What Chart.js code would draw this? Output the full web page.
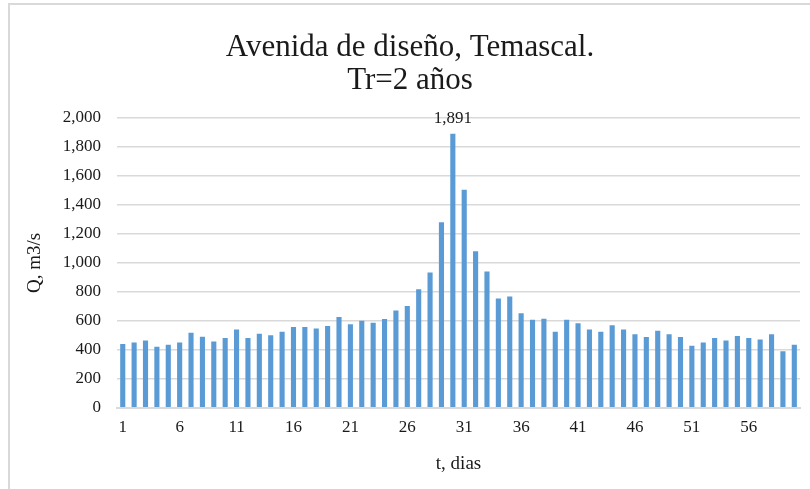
<!DOCTYPE html>
<html>
<head>
<meta charset="utf-8">
<script src="https://cdn.jsdelivr.net/npm/chart.js@4.4.0/dist/chart.umd.min.js"></script>
<style>
  body { margin: 0; background: #fff; }
  #frame { position: absolute; left: 8px; top: 3px; width: 810px; height: 490px; border-left: 2px solid #d9d9d9; border-top: 2px solid #d9d9d9; }
  #wrap { position: absolute; left: 0; top: 0; width: 810px; height: 489px; }
</style>
</head>
<body>
<div id="frame"></div>
<div id="wrap"><canvas id="chart" width="810" height="489"></canvas></div>
<script>
// Avenida de diseño, Temascal - Tr = 2 años
const dias = [];
for (let d = 1; d <= 60; d++) dias.push(String(d));

const caudal = [
  441, 451, 465, 421, 435, 451, 518, 490, 458, 481,
  541, 481, 511, 501, 524, 557, 557, 547, 564, 627,
  577, 600, 587, 612, 672, 702, 818, 933, 1280, 1891,
  1505, 1080, 940, 755, 768, 653, 607, 614, 524, 607,
  584, 541, 524, 570, 541, 508, 488, 531, 508, 488,
  428, 451, 481, 465, 495, 481, 472, 508, 391, 435
];

const yTicks = [0, 200, 400, 600, 800, 1000, 1200, 1400, 1600, 1800, 2000];

const serif = "'Liberation Serif', 'Times New Roman', serif";

// label only the peak value
const peakLabel = {
  id: 'peakLabel',
  afterDatasetsDraw(chart) {
    const ctx = chart.ctx;
    const meta = chart.getDatasetMeta(0);
    const data = chart.data.datasets[0].data;
    const i = data.indexOf(Math.max(...data));
    const bar = meta.data[i];
    ctx.save();
    ctx.font = '17px ' + serif;
    ctx.fillStyle = '#1a1a1a';
    ctx.textAlign = 'center';
    ctx.textBaseline = 'bottom';
    ctx.fillText(data[i].toLocaleString('en-US'), bar.x, bar.y - 7);
    ctx.restore();
  }
};

new Chart(document.getElementById('chart'), {
  type: 'bar',
  data: {
    labels: dias,
    datasets: [{
      data: caudal,
      backgroundColor: '#5b9bd5',
      barPercentage: 0.45,
      categoryPercentage: 1
    }]
  },
  plugins: [peakLabel],
  options: {
    responsive: false,
    animation: false,
    layout: { padding: { left: 20, right: 10, top: 10, bottom: 10 } },
    plugins: {
      legend: { display: false },
      tooltip: { enabled: false },
      title: {
        display: true,
        text: ['Avenida de diseño, Temascal.', 'Tr=2 años'],
        color: '#1a1a1a',
        font: { family: serif, size: 31, weight: 'normal', lineHeight: 1.08 },
        padding: { top: 21, bottom: 20 }
      }
    },
    scales: {
      x: {
        grid: { display: false },
        border: { color: '#d9d9d9', width: 2 },
        ticks: {
          autoSkip: false,
          maxRotation: 0,
          color: '#1a1a1a',
          font: { family: serif, size: 17 },
          padding: 2,
          callback: function (v, i) { return i % 5 === 0 ? dias[i] : ''; }
        },
        title: {
          display: true,
          text: 't, dias',
          color: '#1a1a1a',
          font: { family: serif, size: 19 },
          padding: { top: 12 }
        }
      },
      y: {
        min: 0,
        max: 2000,
        afterBuildTicks: function (axis) { axis.ticks = yTicks.map(v => ({ value: v })); },
        grid: { color: '#d9d9d9', lineWidth: 1.5, drawTicks: false },
        border: { display: false },
        ticks: {
          color: '#1a1a1a',
          font: { family: serif, size: 17 },
          padding: 16,
          callback: function (v) { return v.toLocaleString('en-US'); }
        },
        title: {
          display: true,
          text: 'Q, m3/s',
          color: '#1a1a1a',
          font: { family: serif, size: 19 },
          padding: { bottom: 0 }
        }
      }
    }
  }
});
</script>
</body>
</html>
